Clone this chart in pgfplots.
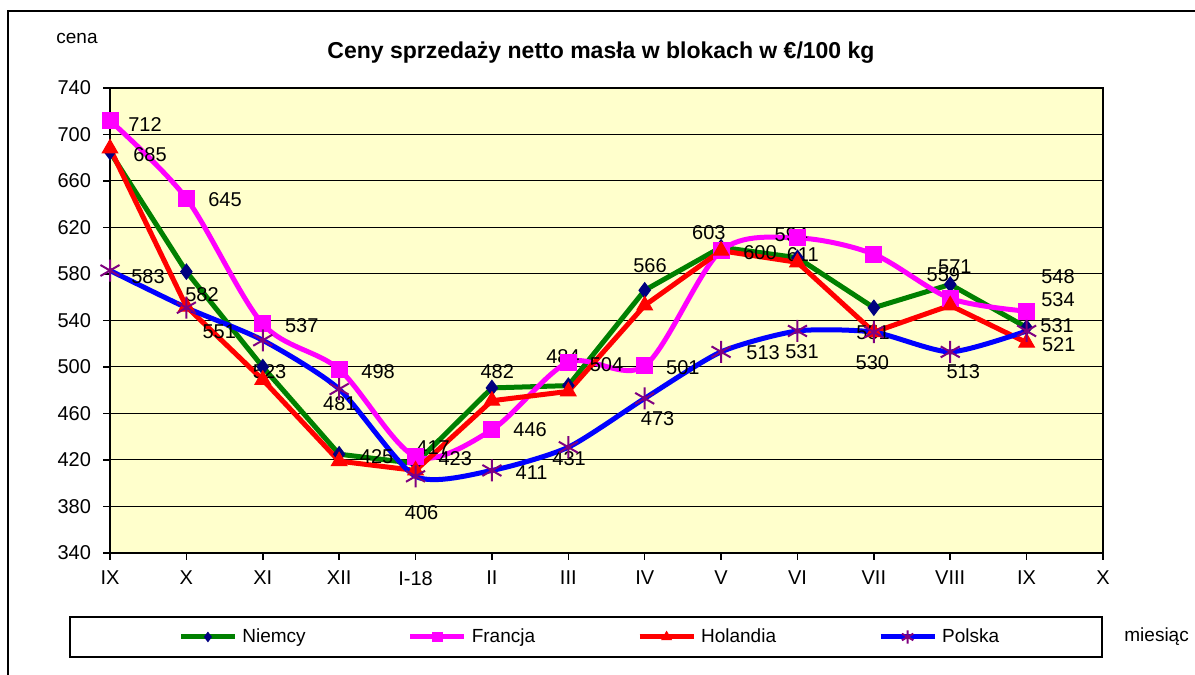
\documentclass[border=0pt]{standalone}
\usepackage{fontspec}
\setmainfont{Liberation Sans}
\usepackage{pgfplots}
\pgfplotsset{compat=1.18}
\definecolor{bgy}{RGB}{255,255,204}
\definecolor{xgreen}{RGB}{0,128,0}
\definecolor{xnavy}{RGB}{0,0,128}
\definecolor{xmag}{RGB}{255,0,255}
\definecolor{xpurple}{RGB}{128,0,128}
\begin{document}
\begin{tikzpicture}
\path[use as bounding box] (0,0) rectangle (597.5bp,337.5bp);
\draw[line width=1bp] (4bp,0) -- (4bp,332bp) -- (597.5bp,332bp);
\node[font=\fontsize{11.5bp}{13bp}\selectfont\bfseries] at (300.5bp,311bp) {Ceny sprzedaży netto masła w blokach w €/100 kg};
\node[font=\fontsize{9.5bp}{11bp}\selectfont] at (38.5bp,318.5bp) {cena};
\begin{axis}[
 at={(55bp,61bp)}, anchor=south west, scale only axis, width=496.5bp, height=232.5bp,
 xmin=0, xmax=13, ymin=340, ymax=740,
 xtick={0,...,13}, xticklabels={IX,X,XI,XII,I-18,II,III,IV,V,VI,VII,VIII,IX,X},
 ytick={340,380,...,740},
 ymajorgrids, grid style={black, line width=0.5bp},
 axis background/.style={fill=bgy},
 axis line style={black,line width=0.75bp},
 tick align=outside, tick pos=left, major tick length=3.5bp,
 tick style={black,line width=0.75bp},
 ticklabel style={font=\fontsize{10bp}{12bp}\selectfont},
 /pgf/number format/assume math mode=true,
 yticklabel style={xshift=-2.5bp},
 xticklabel style={yshift=-2bp},
 clip=false,
 legend cell align=left,
 legend style={at={(0.0685,-0.1806)}, anchor=west, draw=none, fill=none, inner sep=0pt,
   font=\fontsize{9.5bp}{11bp}\selectfont, legend columns=4,
   /tikz/every odd column/.append style={column sep=2.5bp},
   /tikz/every even column/.append style={column sep=51bp},
   nodes={inner sep=0pt}},
 legend image code/.code={\draw[mark repeat=2,mark phase=2,#1] plot coordinates {(0bp,0bp) (13.5bp,0bp) (27bp,0bp)};},
 legend image post style={/tikz/every mark/.append style={scale=0.6}},
]
\addplot[xgreen, line width=2.5bp, mark=diamond*, mark size=3.8bp, mark options={draw=xnavy, fill=xnavy, line width=0.5bp}] coordinates {
(0,685) (1,582) (2,500) (3,425) (4,417) (5,482) (6,484) (7,566) (8,603) (9,594) (10,551) (11,571) (12,534)};
\addlegendentry{Niemcy}
\addplot[xmag, line width=2.5bp, smooth, mark=square*, mark size=4bp, mark options={draw=xmag, fill=xmag, line width=0.5bp}] coordinates {
(0,712) (1,645) (2,537) (3,498) (4,423) (5,446) (6,504) (7,501) (8,600) (9,611) (10,597) (11,559) (12,548)};
\addlegendentry{Francja}
\addplot[red, line width=2.5bp, mark=triangle*, mark size=4.5bp, mark options={draw=red, fill=red, line width=0.5bp}] coordinates {
(0,688) (1,552) (2,489) (3,419) (4,411) (5,471) (6,479) (7,553) (8,600) (9,590) (10,530) (11,553) (12,521)};
\addlegendentry{Holandia}
\addplot[blue, line width=2.5bp, smooth, tension=0.4, mark=asterisk, mark size=5.5bp, mark options={draw=xpurple, line width=1bp}] coordinates {
(0,583) (1,551) (2,523) (3,481) (4,406) (5,411) (6,431) (7,473) (8,513) (9,531) (10,530) (11,513) (12,531)};
\addlegendentry{Polska}
\begin{scope}[every node/.style={font=\fontsize{10bp}{12bp}\selectfont, inner sep=0pt}]
\node at (axis cs:0.458,709) {712};
\node at (axis cs:0.524,682.4) {685};
\node at (axis cs:1.506,643.7) {645};
\node at (axis cs:0.498,577.4) {583};
\node at (axis cs:1.204,562) {582};
\node at (axis cs:1.43,530) {551};
\node at (axis cs:2.51,535.3) {537};
\node at (axis cs:2.09,495.7) {523};
\node at (axis cs:3.51,495.7) {498};
\node at (axis cs:3.01,468.2) {481};
\node at (axis cs:3.49,422.6) {425};
\node at (axis cs:4.23,430.3) {417};
\node at (axis cs:4.52,421) {423};
\node at (axis cs:4.08,374.4) {406};
\node at (axis cs:5.07,495.7) {482};
\node at (axis cs:5.5,445.8) {446};
\node at (axis cs:5.52,408.8) {411};
\node at (axis cs:5.93,508.6) {484};
\node at (axis cs:6.5,501.7) {504};
\node at (axis cs:6.01,421) {431};
\node at (axis cs:7.07,586.9) {566};
\node at (axis cs:7.5,499.1) {501};
\node at (axis cs:7.17,455.3) {473};
\node at (axis cs:7.84,615.3) {603};
\node at (axis cs:8.51,598.1) {600};
\node at (axis cs:8.92,613.5) {594};
\node at (axis cs:9.07,596.3) {611};
\node at (axis cs:8.55,512) {513};
\node at (axis cs:9.06,513) {531};
\node at (axis cs:9.99,529.2) {551};
\node at (axis cs:9.98,503.4) {530};
\node at (axis cs:11.06,586) {571};
\node at (axis cs:10.91,579.1) {559};
\node at (axis cs:11.17,495.7) {513};
\node at (axis cs:12.41,577.4) {548};
\node at (axis cs:12.41,557.6) {534};
\node at (axis cs:12.4,535.3) {531};
\node at (axis cs:12.42,519) {521};
\end{scope}
\end{axis}
\draw[line width=0.75bp] (35bp,9bp) rectangle (551bp,29bp);
\node[anchor=west, inner sep=0pt, font=\fontsize{9.5bp}{11bp}\selectfont] at (562bp,19bp) {miesiąc};
\end{tikzpicture}
\end{document}
